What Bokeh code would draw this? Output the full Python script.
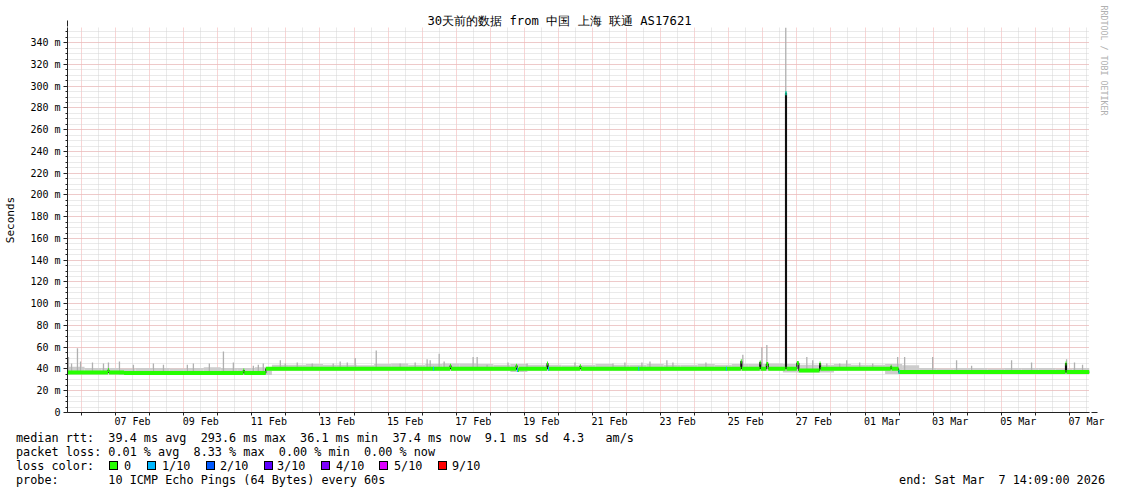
import html
import numpy as np
import pandas as pd
from bokeh.plotting import figure
from bokeh.layouts import column
from bokeh.models import Range1d, FixedTicker, Arrow, NormalHead, Title, Div
from bokeh.embed import file_html
from bokeh.resources import INLINE

# ---------------- data ----------------
TITLE = "30天前的数据 from 中国 上海 联通 AS17621"
WATERMARK = "RRDTOOL / TOBI OETIKER"
START = "2026-02-05 14:09"
END = "2026-03-07 14:09"

median_time = [
    "2026-02-05 14:09", "2026-02-06 18:40", "2026-02-06 19:20", "2026-02-07 06:00",
    "2026-02-10 18:00", "2026-02-10 18:40", "2026-02-11 09:50", "2026-02-16 19:40",
    "2026-02-16 20:20", "2026-02-18 18:10", "2026-02-18 18:50", "2026-02-18 20:10",
    "2026-02-19 16:00", "2026-02-19 16:40", "2026-02-20 15:10", "2026-02-20 15:50",
    "2026-02-25 08:30", "2026-02-25 09:10", "2026-02-25 21:50", "2026-02-25 22:30",
    "2026-02-26 02:30", "2026-02-26 03:50", "2026-02-26 16:00", "2026-02-26 16:40",
    "2026-02-27 00:00", "2026-02-27 01:20", "2026-02-27 16:00", "2026-02-27 16:40",
    "2026-03-01 18:05", "2026-03-01 18:45", "2026-03-01 23:40", "2026-03-06 21:15",
    "2026-03-06 21:55",
]
median_ms = [
    36.8, 39.0, 36.8, 36.3,
    38.6, 36.3, 40.2, 43.0,
    40.2, 43.0, 39.2, 40.2,
    45.0, 40.2, 42.5, 40.2,
    47.0, 40.3, 46.0, 40.3,
    44.5, 40.3, 293.6, 40.3,
    45.5, 38.6, 45.0, 40.2,
    42.0, 40.2, 37.2, 45.0,
    37.2,
]

spike_time = [
    "2026-02-05 14:50", "2026-02-05 17:00", "2026-02-05 21:10", "2026-02-05 23:20",
    "2026-02-06 07:45", "2026-02-06 15:30", "2026-02-06 19:00", "2026-02-07 02:45",
    "2026-02-07 12:35", "2026-02-08 02:40", "2026-02-08 09:45", "2026-02-09 02:35",
    "2026-02-09 06:50", "2026-02-09 18:05", "2026-02-10 04:00", "2026-02-10 11:00",
    "2026-02-11 01:05", "2026-02-11 04:35", "2026-02-11 08:05", "2026-02-11 20:05",
    "2026-02-11 23:35", "2026-02-12 08:00", "2026-02-12 18:35", "2026-02-13 09:20",
    "2026-02-13 14:15", "2026-02-13 19:15", "2026-02-14 00:50", "2026-02-14 15:40",
    "2026-02-15 08:30", "2026-02-15 19:05", "2026-02-16 03:30", "2026-02-16 05:40",
    "2026-02-16 12:00", "2026-02-16 15:30", "2026-02-17 11:55", "2026-02-17 14:45",
    "2026-02-17 21:45", "2026-02-18 12:30", "2026-02-19 01:55", "2026-02-19 16:00",
    "2026-02-20 11:40", "2026-02-21 14:25", "2026-02-21 22:50", "2026-02-22 10:50",
    "2026-02-22 16:30", "2026-02-23 04:25", "2026-02-23 08:40", "2026-02-24 07:55",
    "2026-02-25 09:55", "2026-02-25 23:20", "2026-02-26 02:50", "2026-02-26 16:10",
    "2026-02-27 07:00", "2026-02-27 11:10", "2026-02-27 21:05", "2026-02-28 06:10",
    "2026-02-28 11:05", "2026-02-28 20:15", "2026-03-01 05:25", "2026-03-01 23:00",
    "2026-03-02 03:55", "2026-03-02 23:40", "2026-03-03 16:30", "2026-03-04 03:05",
    "2026-03-05 07:15", "2026-03-05 21:20", "2026-03-06 22:00", "2026-03-07 03:35",
    "2026-03-07 09:15",
]
spike_ms = [
    51, 45, 59, 47,
    46, 45, 46, 47,
    44, 45, 44, 44,
    45, 45, 56, 46,
    43, 44, 45, 48,
    45, 46, 45, 45,
    47, 46, 50, 57,
    45, 46, 49, 48,
    54, 47, 51, 51,
    44, 46, 45, 45,
    46, 45, 46, 46,
    47, 48, 46, 46,
    53, 60, 62, 354,
    51, 48, 45, 45,
    48, 46, 45, 51,
    51, 51, 48, 43,
    48, 46, 49, 46,
    44,
]

fuzz_top_ms = [
    42.0, 41.0, 41.0, 40.5, 41.0, 41.0, 40.5, 41.0, 41.5, 41.0, 41.0, 41.5,
    44.0,
    44.0, 44.5, 44.0, 44.0, 43.5, 44.5, 45.0, 44.0, 44.5, 45.0, 45.0, 44.5,
    44.0, 44.5, 44.0, 44.0, 43.5, 44.0, 44.5, 44.0, 44.0, 44.5, 44.0, 44.0,
    44.5, 44.0, 44.5, 44.5, 45.0, 44.5, 44.0, 44.0, 44.5, 44.0, 44.0, 44.5,
    43.5,
    41.0, 40.5, 41.0, 41.0, 40.5, 41.0, 41.0, 41.0, 40.5, 41.0,
]

loss_time = ["2026-02-16 07:45", "2026-02-18 18:50", "2026-02-19 16:40",
             "2026-02-22 08:15", "2026-02-24 22:00", "2026-02-26 16:00",
             "2026-03-01 23:40"]
loss_level = [1, 1, 1, 1, 1, 1, 1]

loss_labels = ["0", "1/10", "2/10", "3/10", "4/10", "5/10", "9/10"]
loss_colors = ["#26ff00", "#00b8ff", "#0059ff", "#5e00ff", "#7e00ff", "#dd00ff", "#ff0000"]

y_ticks = [0, 20, 40, 60, 80, 100, 120, 140, 160, 180, 200, 220, 240, 260, 280, 300, 320, 340]
y_tick_labels = ["0", "20 m", "40 m", "60 m", "80 m", "100 m", "120 m", "140 m", "160 m",
                 "180 m", "200 m", "220 m", "240 m", "260 m", "280 m", "300 m", "320 m", "340 m"]
x_tick_dates = ["2026-02-07 12:00", "2026-02-09 12:00", "2026-02-11 12:00", "2026-02-13 12:00",
                "2026-02-15 12:00", "2026-02-17 12:00", "2026-02-19 12:00", "2026-02-21 12:00",
                "2026-02-23 12:00", "2026-02-25 12:00", "2026-02-27 12:00", "2026-03-01 12:00",
                "2026-03-03 12:00", "2026-03-05 12:00", "2026-03-07 12:00"]
x_tick_labels = ["07 Feb", "09 Feb", "11 Feb", "13 Feb", "15 Feb", "17 Feb", "19 Feb", "21 Feb",
                 "23 Feb", "25 Feb", "27 Feb", "01 Mar", "03 Mar", "05 Mar", "07 Mar"]

stat_rtt = "median rtt:  39.4 ms avg  293.6 ms max  36.1 ms min  37.4 ms now  9.1 ms sd  4.3   am/s"
stat_loss = "packet loss: 0.01 % avg  8.33 % max  0.00 % min  0.00 % now"
loss_caption = "loss color:"
probe_text = "probe:       10 ICMP Echo Pings (64 Bytes) every 60s"
end_text = "end: Sat Mar  7 14:09:00 2026"


# ---------------- helpers ----------------
def to_ms(seq):
    idx = pd.to_datetime(list(seq))
    return np.asarray((idx - pd.Timestamp("1970-01-01")).total_seconds() * 1000.0, dtype=float)


t0 = to_ms([START])[0]
t1 = to_ms([END])[0]
med_t = to_ms(median_time)
med_v = np.asarray(median_ms, dtype=float)


def med_at(t):
    i = np.searchsorted(med_t, t, side="right") - 1
    return med_v[np.clip(i, 0, len(med_v) - 1)]


W = 1120
H1 = 430
FRAME_L, FRAME_T = 67, 27
FRAME_W, FRAME_H = 1023, 385
Y_MAX = 354.0
XPX = (t1 - t0) / FRAME_W
YPX = Y_MAX / FRAME_H
HALF_BAND = 1.85
MONO = "DejaVu Sans Mono"

p = figure(width=W, height=H1, output_backend="svg", toolbar_location=None,
           x_range=Range1d(t0, t1), y_range=Range1d(0, Y_MAX),
           min_border_left=FRAME_L, min_border_right=W - FRAME_L - FRAME_W,
           min_border_top=FRAME_T, min_border_bottom=H1 - FRAME_T - FRAME_H)
p.outline_line_color = None
p.background_fill_color = "white"
p.border_fill_color = "white"

p.title.text = TITLE
p.title.text_font = MONO
p.title.text_font_size = "12.2px"
p.title.text_font_style = "normal"
p.title.text_color = "black"
p.title.align = "left"
p.title.offset = 427 - FRAME_L
p.title.standoff = 0

midnights = to_ms(pd.date_range("2026-02-06", "2026-03-07", freq="D").strftime("%Y-%m-%d %H:%M"))
noons = to_ms(pd.date_range("2026-02-06 12:00", "2026-03-07 12:00", freq="D").strftime("%Y-%m-%d %H:%M"))
p.xgrid.ticker = FixedTicker(ticks=list(midnights), minor_ticks=list(noons))
p.ygrid.ticker = FixedTicker(ticks=y_ticks, minor_ticks=list(range(0, 355, 5)))
for g in (p.xgrid, p.ygrid):
    g.grid_line_color = "#f2abab"
    g.grid_line_dash = "1 1"
    g.minor_grid_line_color = "#d4d4d4"
    g.minor_grid_line_dash = "1 1"

xt = to_ms(x_tick_dates)
p.xaxis.ticker = FixedTicker(ticks=list(xt), minor_ticks=list(midnights))
p.xaxis.major_label_overrides = {float(k): v for k, v in zip(xt, x_tick_labels)}
p.xaxis.major_tick_out = 0
p.xaxis.major_tick_in = 0
p.xaxis.minor_tick_out = 3
p.xaxis.minor_tick_in = 0
p.xaxis.major_label_standoff = 0
p.yaxis.ticker = FixedTicker(ticks=y_ticks, minor_ticks=list(range(0, 355, 5)))
p.yaxis.major_label_overrides = dict(zip(y_ticks, y_tick_labels))
p.yaxis.major_tick_out = 4
p.yaxis.major_tick_in = 0
p.yaxis.minor_tick_out = 2
p.yaxis.minor_tick_in = 0
p.yaxis.major_label_standoff = 3
p.yaxis.axis_label = "Seconds"
p.yaxis.axis_label_standoff = 10
p.yaxis.axis_label_text_font = MONO
p.yaxis.axis_label_text_font_size = "11px"
p.yaxis.axis_label_text_font_style = "normal"
p.yaxis.axis_label_text_color = "black"
for ax in (p.xaxis, p.yaxis):
    ax.major_label_text_font = MONO
    ax.major_label_text_font_size = "10px"
    ax.major_label_text_color = "black"
    ax.axis_line_color = "#222222"
    ax.major_tick_line_color = "#222222"
    ax.minor_tick_line_color = "#222222"

# smoke band
edges = t0 + np.arange(len(fuzz_top_ms) + 1) * 12 * 3600 * 1000.0
edges[-1] = t1
bottoms = []
for i in range(len(fuzz_top_ms)):
    i0 = max(np.searchsorted(med_t, edges[i], side="right") - 1, 0)
    i1 = max(np.searchsorted(med_t, edges[i + 1], side="left") - 1, i0)
    bottoms.append(med_v[i0:i1 + 1].min() - HALF_BAND)
p.quad(left=edges[:-1], right=edges[1:], bottom=bottoms, top=fuzz_top_ms,
       fill_color="#cdcdcd", line_color=None)

sp_t = to_ms(spike_time)
p.segment(x0=sp_t, x1=sp_t, y0=med_at(sp_t), y1=spike_ms, line_color="#b0b0b0", line_width=1.3)

step_x = np.append(med_t, t1)
step_y = np.append(med_v, med_v[-1])
p.step(x=step_x, y=step_y, mode="after", line_color="#101010", line_width=1.2)
p.quad(left=med_t, right=np.append(med_t[1:], t1), bottom=med_v - HALF_BAND, top=med_v + HALF_BAND,
       fill_color=loss_colors[0], line_color=None)
ls_t = to_ms(loss_time)
p.quad(left=ls_t, right=ls_t + 40 * 60 * 1000.0, bottom=med_at(ls_t) - HALF_BAND,
       top=med_at(ls_t) + HALF_BAND, fill_color=[loss_colors[k] for k in loss_level], line_color=None)

ARROW_C = "#7f1f1f"
p.add_layout(Arrow(x_start=t0, y_start=Y_MAX, x_end=t0, y_end=Y_MAX + 7 * YPX,
                   line_color="#222222", line_width=1,
                   end=NormalHead(size=6, fill_color=ARROW_C, line_color=ARROW_C)))
p.add_layout(Arrow(x_start=t1, y_start=0, x_end=t1 + 8 * XPX, y_end=0,
                   line_color="#222222", line_width=1,
                   end=NormalHead(size=6, fill_color=ARROW_C, line_color=ARROW_C)))

p.add_layout(Title(text=WATERMARK, align="left", offset=5 - FRAME_T, standoff=19, text_font=MONO,
                   text_font_size="8.3px", text_font_style="normal", text_color="#b0b0b0"), "right")

# ---------------- stats strip (HTML text under the graph) ----------------
box_left = [109, 147, 206, 264, 321, 379, 438]
label_left = [124, 162, 220, 277, 336, 394, 452]
parts = []


def put(left, top, inner, anchor="left"):
    parts.append(f'<div style="position:absolute;{anchor}:{left}px;top:{top}px;">{inner}</div>')


put(16, 1, html.escape(stat_rtt))
put(16, 15, html.escape(stat_loss))
put(16, 29, html.escape(loss_caption))
for bl, ll, lab, col in zip(box_left, label_left, loss_labels, loss_colors):
    parts.append(f'<div style="position:absolute;left:{bl}px;top:31px;width:7px;height:7px;'
                 f'border:1px solid #000;background:{col};box-sizing:content-box;"></div>')
    put(ll, 29, html.escape(lab))
put(16, 43, html.escape(probe_text))
put(W - 1105, 43, html.escape(end_text), anchor="right")

strip = Div(text=('<div style="position:relative;width:%dpx;height:60px;font-family:\'DejaVu Sans Mono\';'
                  'font-size:11.8px;line-height:14px;white-space:pre;color:#000;">' % W)
            + "".join(parts) + "</div>",
            width=W, height=60, margin=(0, 0, 0, 0))

open("out.html", "w").write(file_html(column(p, strip, spacing=0), INLINE))
